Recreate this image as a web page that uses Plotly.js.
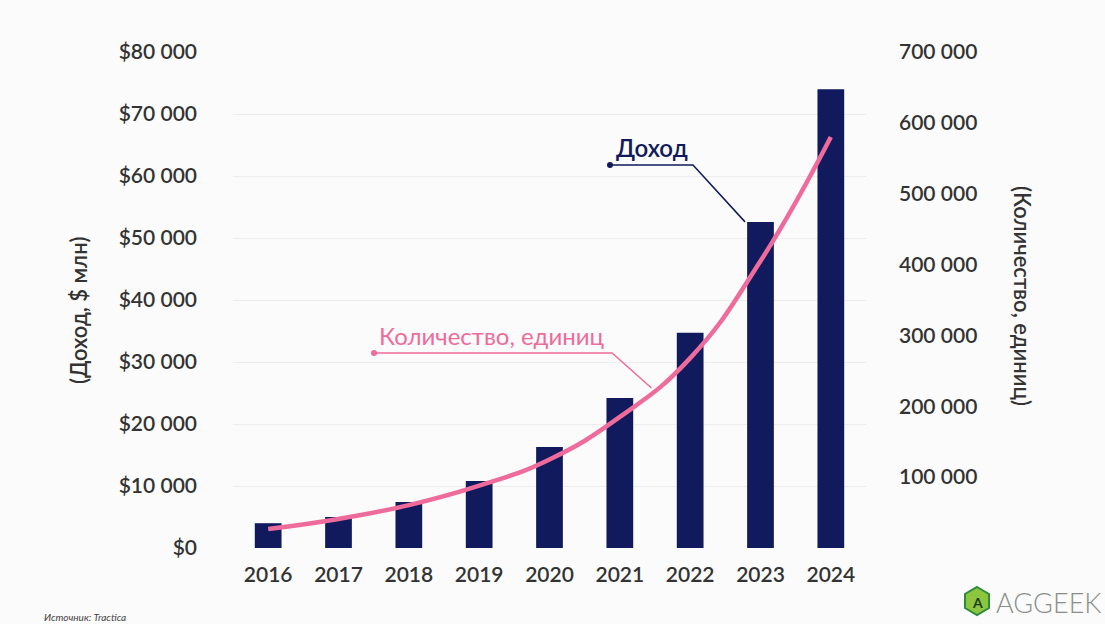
<!DOCTYPE html>
<html>
<head>
<meta charset="utf-8">
<script src="https://cdn.plot.ly/plotly-3.0.1.min.js"></script>
<style>html,body{margin:0;padding:0;background:#fafbfa;}#chart{width:1105px;height:624px;}</style>
</head>
<body>
<div id="chart"></div>
<script>
// ---- data ----
const years = [2016, 2017, 2018, 2019, 2020, 2021, 2022, 2023, 2024];
const yearLabels = ['2016','2017','2018','2019','2020','2021','2022','2023','2024'];
const revenue = [4000, 5000, 7400, 10800, 16300, 24200, 34700, 52600, 74000];   // $ млн
const units = [26800, 41000, 60500, 88000, 125000, 185000, 268000, 405000, 580000]; // единиц
const leftTicks = [0, 10000, 20000, 30000, 40000, 50000, 60000, 70000, 80000];
const leftTickText = ['$0','$10 000','$20 000','$30 000','$40 000','$50 000','$60 000','$70 000','$80 000'];
const rightTicks = [100000, 200000, 300000, 400000, 500000, 600000, 700000];
const rightTickText = ['100 000','200 000','300 000','400 000','500 000','600 000','700 000'];

// ---- layout helpers (page pixels -> paper fractions) ----
const L = 233, R = 866, T = 52, B = 548;
const px = x => (x - L) / (R - L);
const py = y => (B - y) / (B - T);

const navy = '#111a5c';
const pink = '#ef6b9b';
const tickFont = {family: 'Lato, sans-serif', size: 21, color: '#333', weight: 600};

const traces = [
  {type: 'bar', x: years, y: revenue, marker: {color: navy}, width: 0.38, yaxis: 'y', hoverinfo: 'skip'},
  {type: 'scatter', mode: 'lines', x: years, y: units, yaxis: 'y2',
   line: {color: pink, width: 4.5, shape: 'spline', smoothing: 1.3}, hoverinfo: 'skip'}
];

function note(x, y, text, font, extra) {
  return Object.assign({xref: 'paper', yref: 'paper', x: px(x), y: py(y), text: text,
    showarrow: false, xanchor: 'center', yanchor: 'middle', font: font}, extra || {});
}

const layout = {
  width: 1105, height: 624,
  paper_bgcolor: '#fafbfa', plot_bgcolor: '#fafbfa',
  margin: {l: L, r: 1105 - R, t: T, b: 624 - B},
  showlegend: false,
  xaxis: {range: [2015.5, 2024.5], tickvals: years, ticktext: yearLabels, tickfont: tickFont,
          showgrid: false, zeroline: false, showline: false, ticks: '', ticklabelstandoff: 12},
  yaxis: {range: [0, 80000], tickvals: leftTicks, ticktext: leftTickText, tickfont: tickFont,
          showgrid: true, gridcolor: '#eceeec', gridwidth: 1, zeroline: false, showline: false,
          ticks: '', ticklabelstandoff: 35},
  yaxis2: {range: [0, 700000], overlaying: 'y', side: 'right', tickvals: rightTicks, ticktext: rightTickText,
           tickfont: tickFont, showgrid: false, zeroline: false, showline: false, ticks: '', ticklabelstandoff: 32},
  shapes: [
    // Доход connector
    {type: 'path', xref: 'x', yref: 'y',
     path: 'M 2020.86,61770 L 2022.04,61770 L 2022.78,52600',
     line: {color: navy, width: 1.5}},
    {type: 'circle', xref: 'paper', yref: 'paper',
     x0: px(607), x1: px(613), y0: py(168), y1: py(162), fillcolor: navy, line: {width: 0}},
    // Количество connector
    {type: 'path', xref: 'x', yref: 'y',
     path: 'M 2017.51,31450 L 2020.89,31450 L 2021.45,25800',
     line: {color: pink, width: 1.5}},
    {type: 'circle', xref: 'paper', yref: 'paper',
     x0: px(371), x1: px(377), y0: py(356), y1: py(350), fillcolor: pink, line: {width: 0}},
    // logo hexagon
    {type: 'path', xref: 'paper', yref: 'paper',
     path: `M ${px(977)},${py(587)} L ${px(989)},${py(594)} L ${px(989)},${py(608)} L ${px(977)},${py(615)} L ${px(965)},${py(608)} L ${px(965)},${py(594)} Z`,
     fillcolor: '#8cc63f', line: {color: '#2e8b3a', width: 2}}
  ],
  annotations: [
    note(78, 311, '(Доход, $ млн)', {family: 'Lato, sans-serif', size: 22, color: '#333', weight: 600}, {textangle: -90}),
    note(1023, 296, '(Количество, единиц)', {family: 'Lato, sans-serif', size: 22, color: '#333', weight: 600}, {textangle: 90}),
    note(614, 147, 'Доход', {family: 'Lato, sans-serif', size: 24, color: navy, weight: 600}, {xanchor: 'left'}),
    note(377, 335, 'Количество, единиц', {family: 'Lato, sans-serif', size: 24, color: pink}, {xanchor: 'left'}),
    note(42, 617, '<i>Источник: Tractica</i>', {family: 'Lato, sans-serif', size: 10, color: '#444'}, {xanchor: 'left'}),
    note(977, 602, '<b>A</b>', {family: 'Lato, sans-serif', size: 14, color: '#1b3d1f'}),
    note(994, 602, 'AGGEEK', {family: 'Lato, sans-serif', size: 27, color: '#8a8f8a', weight: 300}, {xanchor: 'left'})
  ]
};

Plotly.newPlot('chart', traces, layout, {staticPlot: true, displayModeBar: false});
</script>
</body>
</html>
